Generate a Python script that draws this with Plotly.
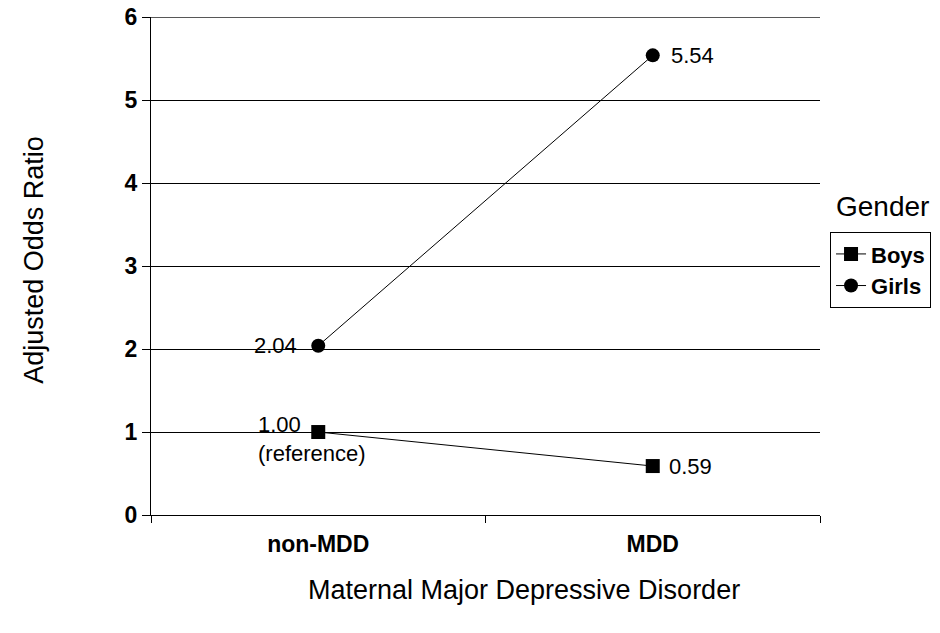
import plotly.graph_objects as go

categories = ["non-MDD", "MDD"]
boys = [1.00, 0.59]
girls = [2.04, 5.54]
boys_labels = ["1.00<br>(reference)", "0.59"]
girls_labels = ["2.04", "5.54"]
y_ticks = [0, 1, 2, 3, 4, 5, 6]

FONT = "Liberation Sans, Arial, sans-serif"
LBL = dict(family=FONT, size=22, color="black")

fig = go.Figure()
fig.add_trace(go.Scatter(
    x=categories, y=boys, name="<b>Boys</b>", mode="lines+markers",
    line=dict(color="black", width=1),
    marker=dict(symbol="square", size=14, color="black"),
))
fig.add_trace(go.Scatter(
    x=categories, y=girls, name="<b>Girls</b>", mode="lines+markers",
    line=dict(color="black", width=1),
    marker=dict(symbol="circle", size=14, color="black"),
))

# top gridline (plotly drops the gridline lying on the plot edge)
fig.add_hline(y=y_ticks[-1], line=dict(color="black", width=1), layer="below")

# Data labels
fig.add_annotation(x=categories[0], y=girls[0], text=girls_labels[0], showarrow=False,
                   xanchor="right", yanchor="middle", xshift=-19, font=LBL)
fig.add_annotation(x=categories[1], y=girls[1], text=girls_labels[1], showarrow=False,
                   xanchor="left", yanchor="middle", xshift=16, font=LBL)
fig.add_annotation(x=categories[0], y=boys[0], text=boys_labels[0], showarrow=False,
                   xanchor="left", yanchor="middle", align="left", xshift=-62, yshift=-7,
                   font=LBL)
fig.add_annotation(x=categories[1], y=boys[1], text=boys_labels[1], showarrow=False,
                   xanchor="left", yanchor="middle", xshift=14, font=LBL)

# Legend title
fig.add_annotation(x=1.094, y=0.619, xref="paper", yref="paper", text="Gender",
                   showarrow=False, xanchor="center", yanchor="middle",
                   font=dict(family=FONT, size=28, color="black"))

# Axis titles
fig.add_annotation(x=0.558, y=-0.151, xref="paper", yref="paper",
                   text="Maternal Major Depressive Disorder", showarrow=False,
                   xanchor="center", yanchor="middle",
                   font=dict(family=FONT, size=27, color="black"))
fig.add_annotation(x=-0.176, y=0.513, xref="paper", yref="paper",
                   text="Adjusted Odds Ratio", showarrow=False, textangle=-90,
                   xanchor="center", yanchor="middle",
                   font=dict(family=FONT, size=27, color="black"))

fig.update_layout(
    width=932, height=625,
    margin=dict(l=143, r=120, t=9, b=118, autoexpand=False),
    paper_bgcolor="white", plot_bgcolor="white",
    font=dict(family=FONT, color="black"),
    showlegend=True,
    legend=dict(x=1.015, y=0.568, xanchor="left", yanchor="top",
                bordercolor="black", borderwidth=1, bgcolor="white",
                font=dict(family=FONT, size=22, color="black"),
                itemwidth=30, tracegroupgap=0),
    xaxis=dict(
        type="category", range=[-0.5, 1.5], automargin=False,
        tickson="boundaries", ticks="outside", ticklen=7, tickcolor="black",
        ticklabelstandoff=8,
        showline=True, linecolor="black", linewidth=1,
        showgrid=False,
        tickfont=dict(family=FONT, size=23, color="black", weight="bold"),
    ),
    yaxis=dict(
        range=[0, 6.002], tickvals=y_ticks, ticks="outside", ticklen=8, tickcolor="black",
        ticklabeloverflow="allow",
        showline=True, linecolor="black", linewidth=1, automargin=False,
        showgrid=True, gridcolor="black", gridwidth=1,
        zeroline=False,
        tickfont=dict(family=FONT, size=23, color="black", weight="bold"),
    ),
)

fig.write_html("out.html")
